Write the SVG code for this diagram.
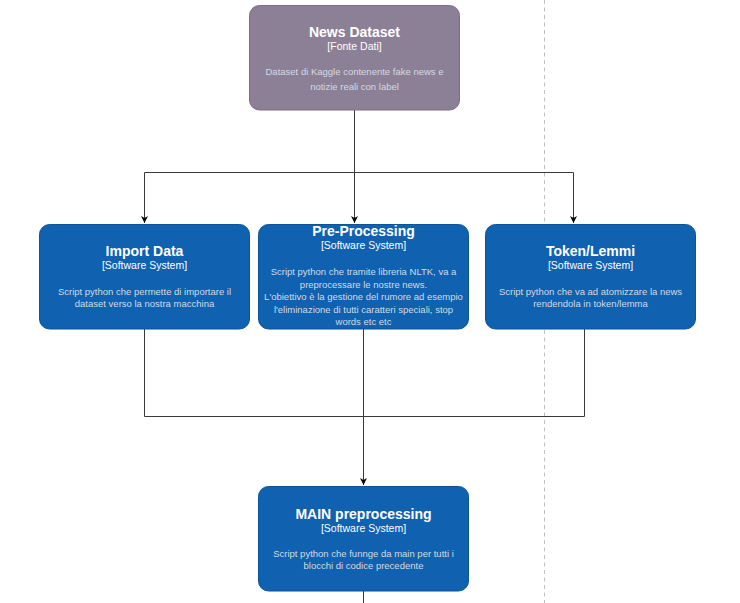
<svg xmlns="http://www.w3.org/2000/svg" width="740" height="603" viewBox="0 0 740 603">
<style>
.box{fill:#1061B0;stroke:#0D5395;stroke-width:1}
.src{fill:#8C8096;stroke:#7A6E85;stroke-width:1}
.t{font-family:"Liberation Sans",Arial,sans-serif;font-size:14px;font-weight:bold;fill:#ffffff;text-anchor:middle}
.s{font-family:"Liberation Sans",Arial,sans-serif;font-size:10.5px;fill:#ffffff;text-anchor:middle}
.d{font-family:"Liberation Sans",Arial,sans-serif;font-size:9.5px;fill:#D3DAE3;text-anchor:middle}
.c{fill:none;stroke:#3a3a3a;stroke-width:1}
</style>
<defs>
<marker id="arr" markerWidth="8" markerHeight="8" refX="7" refY="4" orient="auto" markerUnits="userSpaceOnUse">
<path d="M0,0.5 L7,4 L0,7.5 L2,4 Z" fill="#000"/>
</marker>
</defs>
<rect width="740" height="603" fill="#ffffff"/>
<line x1="544.5" y1="0" x2="544.5" y2="603" stroke="#c0c0c0" stroke-width="1" stroke-dasharray="4 3.5"/>
<g id="connectors">
<path class="c" d="M354.5,110 V172.5 H144.5 V223" marker-end="url(#arr)"/>
<path class="c" d="M354.5,172.5 V223" marker-end="url(#arr)"/>
<path class="c" d="M354.5,172.5 H573.5 V223" marker-end="url(#arr)"/>
<path class="c" d="M144.5,329 V416.5 H584.5 V329"/>
<path class="c" d="M363.5,329 V485" marker-end="url(#arr)"/>
<path class="c" d="M363.5,591 V603"/>
</g>
<g id="news-dataset">
<rect class="src" x="249.5" y="5.5" width="210" height="104.5" rx="10"/>
<text class="t" x="354.5" y="37">News Dataset</text>
<text class="s" x="354.5" y="50">[Fonte Dati]</text>
<text class="d" x="354.5" y="75">Dataset di Kaggle contenente fake news e</text>
<text class="d" x="354.5" y="90">notizie reali con label</text>
</g>
<g id="import-data">
<rect class="box" x="39.5" y="224.5" width="210" height="104.5" rx="10"/>
<text class="t" x="144.5" y="256">Import Data</text>
<text class="s" x="144.5" y="269">[Software System]</text>
<text class="d" x="144.5" y="295">Script python che permette di importare il</text>
<text class="d" x="144.5" y="307">dataset verso la nostra macchina</text>
</g>
<g id="pre-processing">
<rect class="box" x="258.5" y="224.5" width="210" height="104.5" rx="10"/>
<text class="t" x="363.5" y="236">Pre-Processing</text>
<text class="s" x="363.5" y="249">[Software System]</text>
<text class="d" x="363.5" y="275">Script python che tramite libreria NLTK, va a</text>
<text class="d" x="363.5" y="287.5">preprocessare le nostre news.</text>
<text class="d" x="363.5" y="300">L'obiettivo è la gestione del rumore ad esempio</text>
<text class="d" x="363.5" y="312.5">l'eliminazione di tutti caratteri speciali, stop</text>
<text class="d" x="363.5" y="325">words etc etc</text>
</g>
<g id="token-lemmi">
<rect class="box" x="485.5" y="224.5" width="210" height="104.5" rx="10"/>
<text class="t" x="590.5" y="256">Token/Lemmi</text>
<text class="s" x="590.5" y="269">[Software System]</text>
<text class="d" x="590.5" y="295">Script python che va ad atomizzare la news</text>
<text class="d" x="590.5" y="307">rendendola in token/lemma</text>
</g>
<g id="main-preprocessing">
<rect class="box" x="258.5" y="486.5" width="210" height="104.5" rx="10"/>
<text class="t" x="363.5" y="519">MAIN preprocessing</text>
<text class="s" x="363.5" y="531.5">[Software System]</text>
<text class="d" x="363.5" y="557">Script python che funnge da main per tutti i</text>
<text class="d" x="363.5" y="569">blocchi di codice precedente</text>
</g>
</svg>
